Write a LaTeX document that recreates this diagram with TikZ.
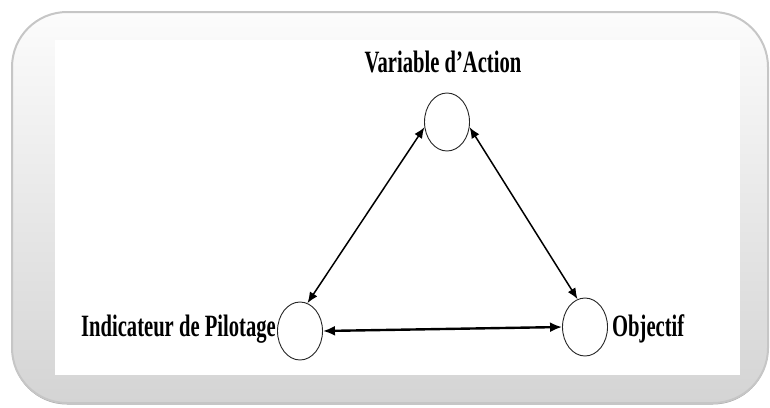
\documentclass[tikz,border=0pt]{standalone}
\usepackage{fontspec}
\newfontfamily\labelfont[FakeStretch=0.665]{Liberation Serif}
\usetikzlibrary{shapes.geometric,arrows.meta}
\definecolor{boxborder}{HTML}{C6C6C6}
\definecolor{boxshadow}{HTML}{A8A8A8}
\definecolor{boxtop}{HTML}{FCFCFC}
\definecolor{boxbottom}{HTML}{D4D4D4}
\tikzset{
  rolenode/.style={draw=black!85, line width=0.9pt, ellipse, inner sep=0pt,
    minimum width=45pt, minimum height=58pt, fill=white},
  labeltext/.style={font=\labelfont\bfseries\fontsize{31}{33}\selectfont, inner sep=0pt, text=black},
  linkarrow/.style={{Latex[length=11pt,width=9pt]}-{Latex[length=11pt,width=9pt]}, line width=1.5pt},
  basearrow/.style={{Latex[length=12pt,width=10pt]}-{Latex[length=12pt,width=10pt]}, line width=2.4pt},
}
\begin{document}
\begin{tikzpicture}[x=1pt,y=-1pt]
\useasboundingbox (0,0) rectangle (770,407);
% frame
\fill[boxshadow, rounded corners=55pt] (12,14.5) rectangle (768,404.5);
\shade[top color=boxtop, bottom color=boxbottom, rounded corners=55pt, draw=boxborder, line width=2pt]
  (12,12) rectangle (768,403);
\fill[white] (55,40) rectangle (740,375);
% nodes
\node[rolenode] (va) at (447,122) {};
\node[rolenode] (ip) at (300,331) {};
\node[rolenode] (ob) at (585,327) {};
% labels
\node[labeltext, anchor=base] (tva) at (443,72) {Variable d’Action};
\node[labeltext, anchor=base east] (tip) at (276,336) {Indicateur de Pilotage};
\node[labeltext, anchor=base west] (tob) at (612,336) {Objectif};
% connectors
\draw[linkarrow] (va.193) -- (ip.75);
\draw[linkarrow] (va.347) -- (ob.105);
\draw[basearrow] (ip.east) -- (ob.west);
\end{tikzpicture}
\end{document}
